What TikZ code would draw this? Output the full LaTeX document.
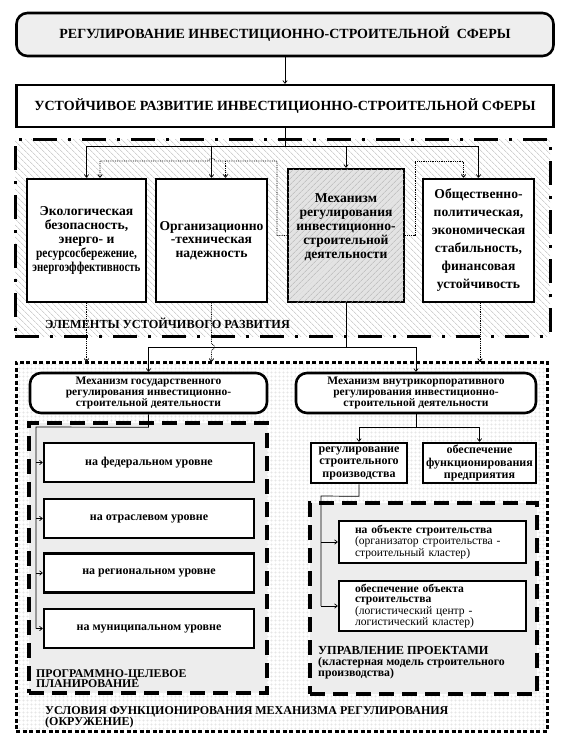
\documentclass[tikz,border=0pt]{standalone}
\usepackage{fontspec}
\setmainfont{Liberation Serif}
\usetikzlibrary{arrows.meta}
\usetikzlibrary{patterns.meta}

\tikzset{
  arr/.style={-{To[length=3.5pt,width=5pt]}, line width=0.7pt},
  link/.style={line width=0.7pt},
  dotarr/.style={densely dotted, -{To[length=3.5pt,width=5pt]}, line width=0.8pt},
  frame/.style={draw, line width=2.6pt, fill=white, align=center, inner sep=1pt},
  roundframe/.style={frame, rounded corners=11pt},
  elemzone/.style={draw, line width=3pt, dash pattern=on 24pt off 11pt on 3pt off 11pt,
    pattern={Lines[angle=-45,distance=4pt,line width=0.5pt]}, pattern color=gray!55},
  condzone/.style={draw, line width=3pt, dash pattern=on 4pt off 2.5pt,
    pattern={Hatch[angle=0,distance=4pt,line width=0.3pt]}, pattern color=gray!30},
  planzone/.style={draw, line width=3.5pt, dash pattern=on 15pt off 8pt, fill=gray!14},
  fbig/.style={font=\bfseries\fontsize{14}{16}\selectfont},
  felem/.style={font=\bfseries\fontsize{13.6}{13.8}\selectfont},
  fmid/.style={font=\bfseries\fontsize{11.5}{11}\selectfont},
  flevel/.style={font=\bfseries\fontsize{12}{12}\selectfont},
  fsmall/.style={font=\fontsize{11.6}{10.5}\selectfont},
  caption/.style={font=\bfseries\fontsize{11.8}{10.5}\selectfont, align=left, inner sep=0pt}
}

\begin{document}
\begin{tikzpicture}[x=1pt,y=-1pt]
\useasboundingbox (0,0) rectangle (566,736);

% zones
\node[elemzone, minimum width=535, minimum height=197] (elements) at (282.5,237.5) {};
\node[condzone, minimum width=531, minimum height=369] (cond) at (281.5,546.5) {};
\node[planzone, minimum width=238, minimum height=270] (plan) at (148,558) {};
\node[planzone, minimum width=227, minimum height=191] (projects) at (423.5,598.5) {};

% top
\node[roundframe, fill=gray!13, fbig, minimum width=537, minimum height=43] (regsphere) at (285,34.5)
  {РЕГУЛИРОВАНИЕ ИНВЕСТИЦИОННО-СТРОИТЕЛЬНОЙ \ СФЕРЫ};
\node[frame, fbig, minimum width=537, minimum height=42] (sustain) at (285,106)
  {УСТОЙЧИВОЕ РАЗВИТИЕ ИНВЕСТИЦИОННО-СТРОИТЕЛЬНОЙ СФЕРЫ};

% elements of sustainable development
\node[frame, felem, minimum width=119, minimum height=123] (eco) at (86.5,240.5)
  {Экологическая\\безопасность,\\энерго- и\\\scalebox{0.84}[1]{ресурсосбережение,}\\\scalebox{0.8}[1]{энергоэффективность}};
\node[frame, felem, minimum width=111, minimum height=123] (org) at (211.5,240.5)
  {Организационно\\-техническая\\надежность};
\node[frame, felem, minimum width=116, minimum height=133, fill=gray!22,
  postaction={pattern={Lines[angle=45,distance=4pt,line width=0.5pt]}, pattern color=gray!60}] (mech) at (346,235.5)
  {Механизм\\регулирования\\инвестиционно-\\строительной\\деятельности\\[5pt]\mbox{}};
\node[frame, font=\bfseries\fontsize{13.6}{18}\selectfont, minimum width=111, minimum height=123] (soc) at (478.5,240.5)
  {Общественно-\\политическая,\\экономическая\\стабильность,\\финансовая\\устойчивость};
\node[caption, font=\bfseries\fontsize{12.3}{10.5}\selectfont, anchor=west] (elemlabel) at (45,323) {ЭЛЕМЕНТЫ УСТОЙЧИВОГО РАЗВИТИЯ};

% mechanisms
\node[roundframe, fmid, minimum width=237, minimum height=40] (gov) at (148.5,393)
  {Механизм государственного\\регулирования инвестиционно-\\строительной деятельности};
\node[roundframe, fmid, minimum width=240, minimum height=40] (corp) at (416,393)
  {Механизм внутрикорпоративного\\регулирования инвестиционно-\\строительной деятельности};

% levels
\node[frame, flevel, minimum width=210, minimum height=39] (fed) at (149,462.5) {на федеральном уровне};
\node[frame, flevel, minimum width=210, minimum height=39] (branch) at (149,518.5) {на отраслевом уровне};
\node[frame, flevel, minimum width=210, minimum height=39] (region) at (149,573) {на региональном уровне};
\node[frame, flevel, minimum width=210, minimum height=39] (munic) at (149,628.5) {на муниципальном уровне};
\node[caption, anchor=north west] (planlabel) at (36,669) {ПРОГРАММНО-ЦЕЛЕВОЕ\\ПЛАНИРОВАНИЕ};

% corporate side
\node[frame, font=\bfseries\fontsize{12}{12.5}\selectfont, minimum width=96, minimum height=40] (prod) at (359,463)
  {регулирование\\строительного\\производства};
\node[frame, font=\bfseries\fontsize{12}{12.5}\selectfont, minimum width=113, minimum height=40] (firm) at (479.5,463)
  {обеспечение\\функционирования\\предприятия};
\node[frame, fsmall, align=left, inner xsep=16pt, text width=155pt, minimum height=42] (site) at (432.5,542)
  {\textbf{на объекте строительства}\\(организатор строительства -\\строительный кластер)};
\node[frame, fsmall, align=left, inner xsep=16pt, text width=155pt, minimum height=50] (supply) at (432.5,606)
  {\textbf{обеспечение объекта}\\\textbf{строительства}\\(логистический центр -\\логистический кластер)};
\node[caption, font=\bfseries\fontsize{12.3}{11}\selectfont, anchor=north west] (projlabel) at (318,646)
  {УПРАВЛЕНИЕ ПРОЕКТАМИ\\{\fontsize{11.8}{11}\selectfont(кластерная модель строительного}\\{\fontsize{11.8}{11}\selectfont производства)}};

\node[caption, font=\bfseries\fontsize{12}{11}\selectfont, anchor=north west] (condlabel) at (45,706)
  {УСЛОВИЯ ФУНКЦИОНИРОВАНИЯ МЕХАНИЗМА РЕГУЛИРОВАНИЯ\\(ОКРУЖЕНИЕ)};

% connectors
\draw[arr] (regsphere.south) -- (sustain.north);
\draw[link] (sustain.south) -- ++(0,18) coordinate (bus1);
\draw[arr] (bus1) -| (eco.north);
\draw[arr] (bus1) -| (org.north);
\draw[arr] (bus1) -| (mech.north);
\draw[arr] (bus1) -| (soc.north);

\draw[dotarr] (mech.west) -| (277,161) -- (215,161) arc[start angle=0,end angle=180,radius=3pt]
  -- (100,161) -- ([xshift=13.5pt]eco.north);
\draw[dotarr] (225.5,161) -- ([xshift=14pt]org.north);
\draw[dotarr] (mech.east) -| (415,161) -| ([xshift=-15pt]soc.north);

\draw[link] (mech.south) -- (346,347) coordinate (bus2);
\draw[arr] (bus2) -| (gov.north);
\draw[arr] (bus2) -| (corp.north);

\draw[dotarr] (eco.south) -- (eco.south |- cond.north);
\draw[dotarr] (org.south) -- (211.5,344) arc[start angle=90,end angle=-90,radius=3pt] -- (org.south |- cond.north);
\draw[dotarr] ([xshift=1.5pt]soc.south) -- ([xshift=1.5pt]soc.south |- cond.north);

\draw[link] (gov.south) -- ++(0,13) -- (36,427) coordinate (lvl) -- (lvl |- munic.west);
\draw[arr] (lvl |- fed.west) -- (fed.west);
\draw[arr] (lvl |- branch.west) -- (branch.west);
\draw[arr] (lvl |- region.west) -- (region.west);
\draw[arr] (lvl |- munic.west) -- (munic.west);

\draw[link] (corp.south) -- ++(0,13) coordinate (bus3);
\draw[arr] (bus3) -| (prod.north);
\draw[arr] (bus3) -| (firm.north);

\draw[link] (prod.south) -- ++(0,12) -- (321,496) coordinate (prj) -- (prj |- supply.west);
\draw[arr] (prj |- site.west) -- (site.west);
\draw[arr] (prj |- supply.west) -- (supply.west);

\end{tikzpicture}
\end{document}
